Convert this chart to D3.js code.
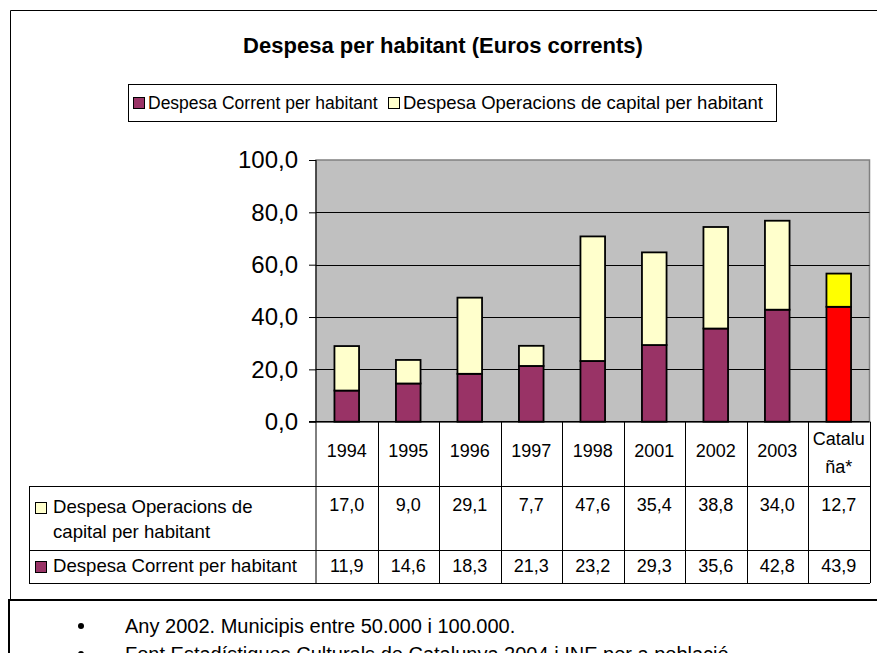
<!DOCTYPE html>
<html>
<head>
<meta charset="utf-8">
<script src="https://cdn.jsdelivr.net/npm/d3@7"></script>
<style>
    body { margin: 0; background: #fff; }
    svg { display: block; font-family: "Liberation Sans", Arial, sans-serif; }
</style>
</head>
<body>
<div id="chart"></div>
<script>
(function() {

    // data
    var categories = ["1994", "1995", "1996", "1997", "1998", "2001", "2002", "2003", "Catalunya*"];
    var headerLines = [["1994"], ["1995"], ["1996"], ["1997"], ["1998"], ["2001"], ["2002"], ["2003"], ["Catalu", "ña*"]];
    var corrent = [11.9, 14.6, 18.3, 21.3, 23.2, 29.3, 35.6, 42.8, 43.9];
    var capital = [17.0, 9.0, 29.1, 7.7, 47.6, 35.4, 38.8, 34.0, 12.7];
    var yTicks = [0, 20, 40, 60, 80, 100];
    var seriesNames = ["Despesa Corrent per habitant", "Despesa Operacions de capital per habitant"];
    var notes = ["Any 2002. Municipis entre 50.000 i 100.000.",
                 "Font Estadístiques Culturals de Catalunya 2004 i INE per a població"];

    var width = 877,
        height = 653

    var colCorrent = "#993366",
        colCapital = "#FFFFCC",
        colCatCorrent = "#FF0000",
        colCatCapital = "#FFFF00"

    // comma as decimal separator
    var locale = d3.formatLocale({ decimal: ",", thousands: ".", grouping: [3], currency: ["", "€"] });
    var fmt = locale.format(".1f");

    var svg = d3.select("#chart")
        .append("svg")
        .attr("width", width)
        .attr("height", height)

    // outer frame (top + left)
    svg.append("path")
        .attr("d", "M10.5,599 V10.5 H877")
        .attr("fill", "none")
        .attr("stroke", "#000")
        .attr("stroke-width", 1)

    // title
    svg.append("text")
        .attr("x", 443)
        .attr("y", 53)
        .attr("text-anchor", "middle")
        .attr("font-size", 22)
        .attr("font-weight", "bold")
        .text("Despesa per habitant (Euros corrents)")

    // legend
    var legend = svg.append("g")
    legend.append("rect")
        .attr("x", 128.5).attr("y", 84.5)
        .attr("width", 648).attr("height", 37)
        .attr("fill", "#fff").attr("stroke", "#000").attr("stroke-width", 1)

    var legendItems = [
        { name: seriesNames[0], color: colCorrent, x: 133, size: 17.5 },
        { name: seriesNames[1], color: colCapital, x: 388, size: 18.5 }
    ]
    legendItems.forEach(function(d) {
        legend.append("rect")
            .attr("x", d.x + 0.5).attr("y", 97.5)
            .attr("width", 11).attr("height", 11)
            .attr("fill", d.color).attr("stroke", "#000")
        legend.append("text")
            .attr("x", d.x + 15).attr("y", 109)
            .attr("font-size", d.size)
            .text(d.name)
    })

    // scales
    var x = d3.scaleBand()
        .domain(categories)
        .range([316, 869.5])
        .padding(0)

    var y = d3.scaleLinear()
        .domain([0, 100])
        .range([421.7, 160])

    var barW = x.bandwidth() * 0.4;

    // plot area
    svg.append("rect")
        .attr("x", x.range()[0]).attr("y", y(100))
        .attr("width", x.range()[1] - x.range()[0])
        .attr("height", y(0) - y(100))
        .attr("fill", "#C0C0C0")
        .attr("stroke", "#808080")
        .attr("stroke-width", 1.5)

    // gridlines
    svg.append("g")
        .selectAll("line")
        .data(yTicks.filter(function(d) { return d > 0 && d < 100; }))
        .enter()
        .append("line")
        .attr("x1", x.range()[0]).attr("x2", x.range()[1])
        .attr("y1", function(d) { return Math.round(y(d)) + 0.5; })
        .attr("y2", function(d) { return Math.round(y(d)) + 0.5; })
        .attr("stroke", "#000")

    // y axis
    var yAxis = d3.axisLeft(y)
        .tickValues(yTicks)
        .tickSize(7)
        .tickPadding(11)
        .tickFormat(fmt)

    var gy = svg.append("g")
        .attr("transform", "translate(316,0)")
        .call(yAxis)
    gy.select(".domain").remove()
    gy.selectAll(".tick line").attr("stroke", "#000")
    gy.selectAll(".tick text")
        .attr("font-size", 24)
        .attr("font-family", "Liberation Sans, Arial, sans-serif")
        .attr("fill", "#000")
    svg.append("line")
        .attr("x1", 316).attr("x2", 316)
        .attr("y1", y(100)).attr("y2", 583)
        .attr("stroke", "#000")

    // stacked bars
    var bars = svg.append("g")
    categories.forEach(function(c, i) {
        var isCat = i === categories.length - 1;
        var bx = x(c) + (x.bandwidth() - barW) / 2;
        bars.append("rect")
            .attr("x", bx).attr("y", y(corrent[i]))
            .attr("width", barW).attr("height", y(0) - y(corrent[i]))
            .attr("fill", isCat ? colCatCorrent : colCorrent)
            .attr("stroke", "#000").attr("stroke-width", 1.8)
        bars.append("rect")
            .attr("x", bx).attr("y", y(corrent[i] + capital[i]))
            .attr("width", barW).attr("height", y(corrent[i]) - y(corrent[i] + capital[i]))
            .attr("fill", isCat ? colCatCapital : colCapital)
            .attr("stroke", "#000").attr("stroke-width", 1.8)
    })

    // baseline
    svg.append("line")
        .attr("x1", 309).attr("x2", 869.5)
        .attr("y1", y(0)).attr("y2", y(0))
        .attr("stroke", "#000").attr("stroke-width", 1.5)

    // data table
    var table = svg.append("g")
    var rowTop = 486, rowMid = 550, rowBot = 583;

    table.selectAll("line.col")
        .data(categories)
        .enter()
        .append("line")
        .attr("class", "col")
        .attr("x1", function(d) { return Math.round(x(d) + x.bandwidth()) + 0.5; })
        .attr("x2", function(d) { return Math.round(x(d) + x.bandwidth()) + 0.5; })
        .attr("y1", y(0)).attr("y2", rowBot)
        .attr("stroke", "#000")

    ;[rowTop, rowMid, rowBot].forEach(function(ry) {
        table.append("line")
            .attr("x1", 29).attr("x2", 870)
            .attr("y1", ry + 0.5).attr("y2", ry + 0.5)
            .attr("stroke", "#000")
    })
    table.append("line")
        .attr("x1", 29.5).attr("x2", 29.5)
        .attr("y1", rowTop).attr("y2", rowBot + 1)
        .attr("stroke", "#000")

    // header labels and values
    categories.forEach(function(c, i) {
        var lines = headerLines[i];
        var cx = x(c) + x.bandwidth() / 2;
        lines.forEach(function(l, j) {
            table.append("text")
                .attr("x", cx)
                .attr("y", lines.length === 1 ? 457 : 445 + j * 28)
                .attr("text-anchor", "middle")
                .attr("font-size", 18)
                .text(l)
        })
        table.append("text")
            .attr("x", cx).attr("y", 511)
            .attr("text-anchor", "middle")
            .attr("font-size", 18)
            .text(fmt(capital[i]))
        table.append("text")
            .attr("x", cx).attr("y", 572)
            .attr("text-anchor", "middle")
            .attr("font-size", 18)
            .text(fmt(corrent[i]))
    })

    // row labels with keys
    table.append("rect")
        .attr("x", 35.5).attr("y", 502.5).attr("width", 11).attr("height", 11)
        .attr("fill", colCapital).attr("stroke", "#000")
    table.append("text").attr("x", 53).attr("y", 513).attr("font-size", 18.6).text("Despesa Operacions de")
    table.append("text").attr("x", 53).attr("y", 538).attr("font-size", 18.6).text("capital per habitant")
    table.append("rect")
        .attr("x", 35.5).attr("y", 561.5).attr("width", 11).attr("height", 11)
        .attr("fill", colCorrent).attr("stroke", "#000")
    table.append("text").attr("x", 53).attr("y", 572).attr("font-size", 18.6).text("Despesa Corrent per habitant")

    // notes box below
    svg.append("path")
        .attr("d", "M9,653 V600 H877")
        .attr("fill", "none")
        .attr("stroke", "#000")
        .attr("stroke-width", 2)

    notes.forEach(function(n, i) {
        svg.append("circle")
            .attr("cx", 81).attr("cy", 626 + i * 28).attr("r", 3)
            .attr("fill", "#000")
        svg.append("text")
            .attr("x", 125).attr("y", 633 + i * 28)
            .attr("font-size", 20)
            .text(n)
    })

})();
</script>
</body>
</html>
